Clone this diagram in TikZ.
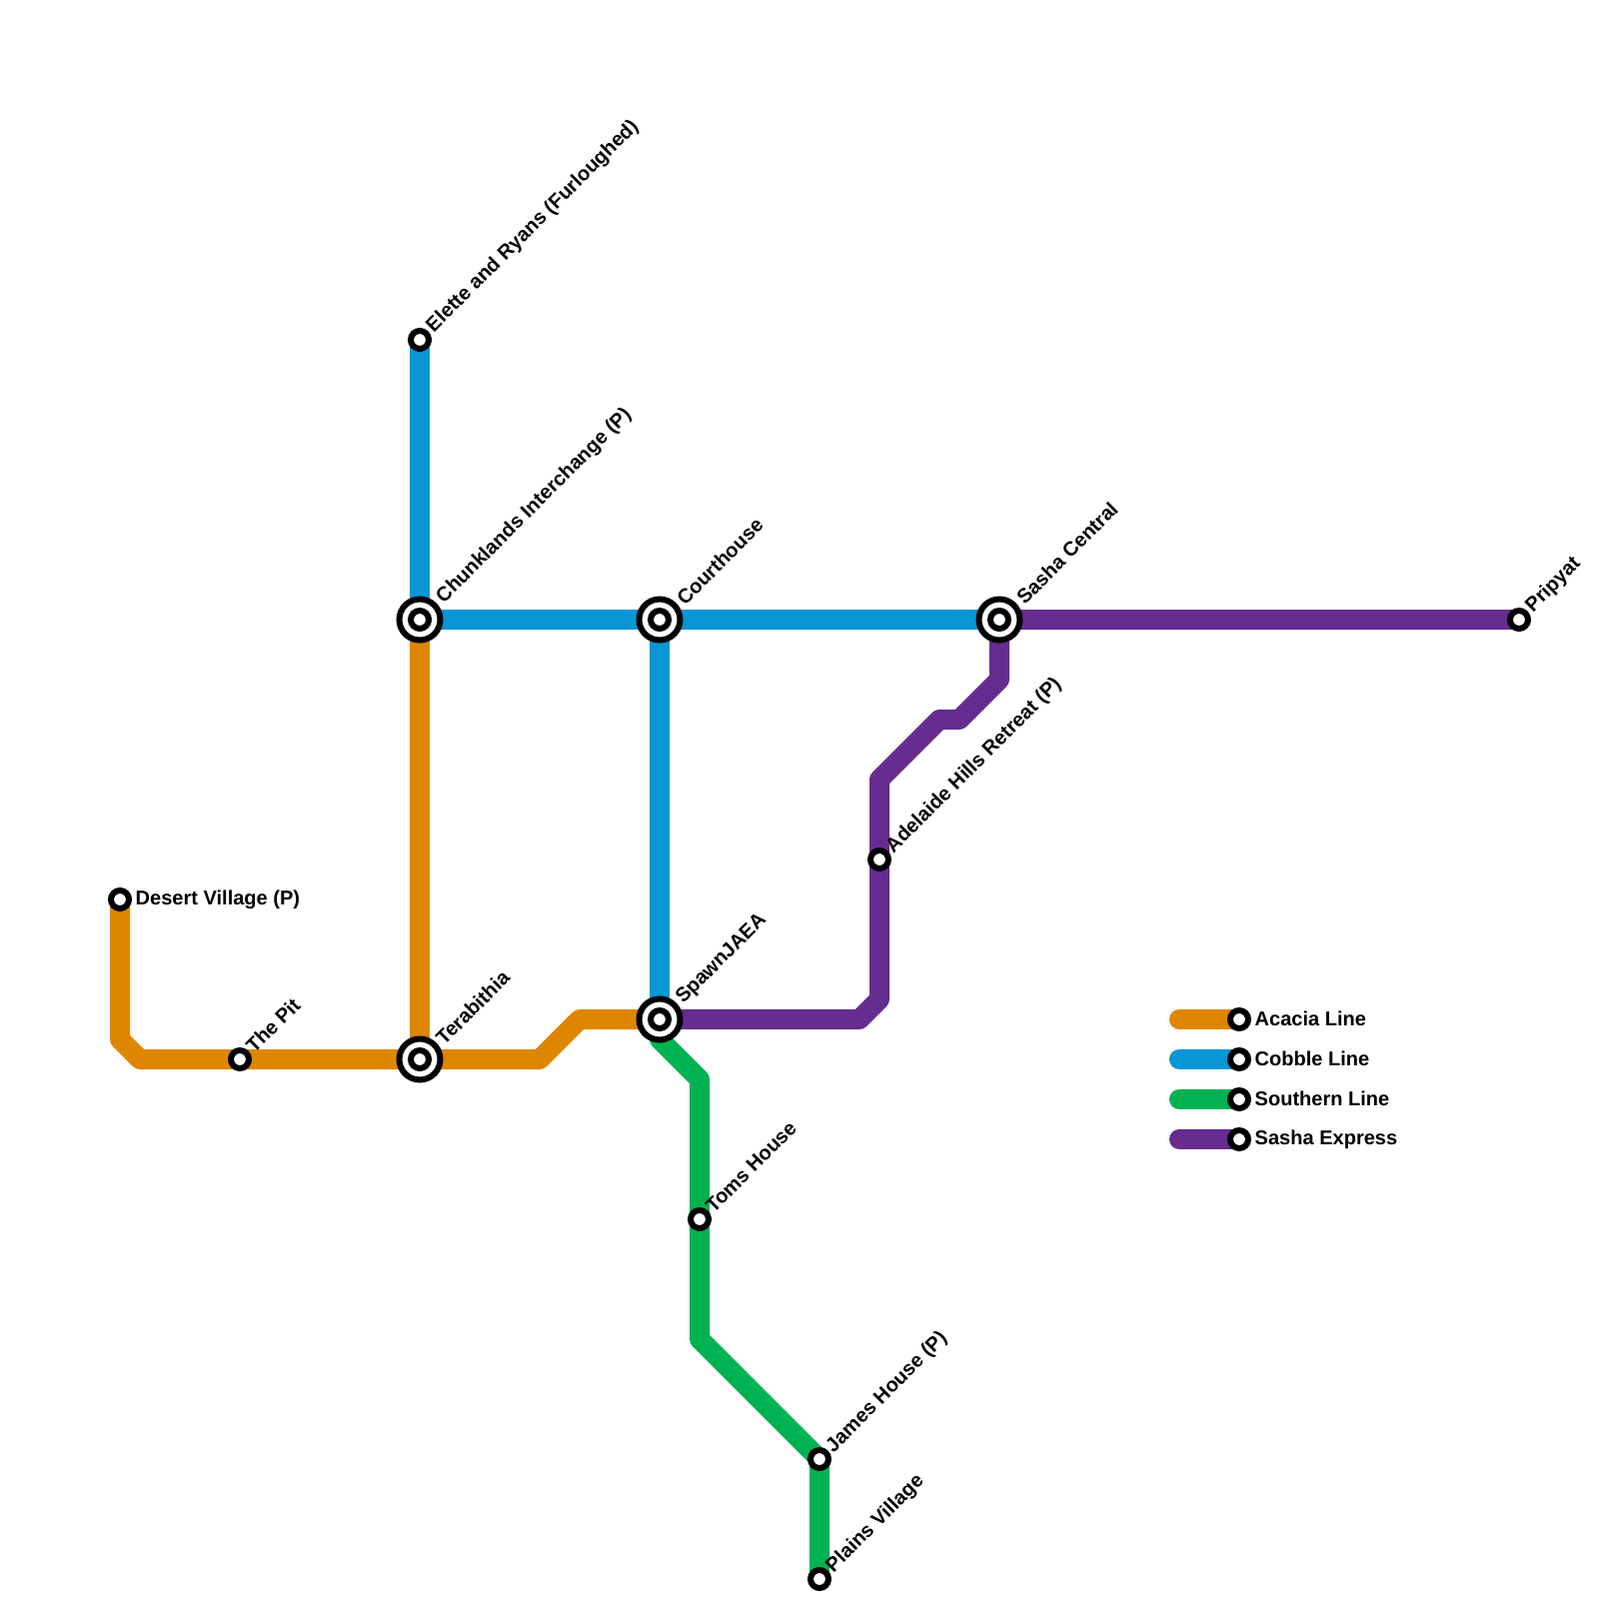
\documentclass[tikz,border=0pt]{standalone}
\usepackage{fontspec}
\setmainfont{Liberation Sans}
\usetikzlibrary{backgrounds}
\definecolor{acacia}{HTML}{DF8600}
\definecolor{cobble}{HTML}{0896D7}
\definecolor{southern}{HTML}{00B251}
\definecolor{sasha}{HTML}{662C90}
\tikzset{
    stop/.style={circle, draw=black, fill=white, line width=0.6mm, minimum size=1.8mm, inner sep=0pt},
    hub/.style={circle, draw=black, fill=white, line width=0.6mm, minimum size=4.1mm, inner sep=0pt},
    tag/.style={anchor=west, inner sep=0pt, font=\fontsize{5.7pt}{6pt}\selectfont\bfseries},
    slant/.style={tag, rotate=45},
    route/.style={line width=2mm, line join=round}
}

\begin{document}
\begin{tikzpicture}[x=0.1mm, y=-0.1mm]
    \useasboundingbox (0,0) rectangle (1600,1600);

    % Acacia stops
    \node[stop] (desert) at (120,900) {};
    \node[stop] (pit) at (240,1060) {};
    \node[hub] (terabithia) at (420,1060) {};
    \node[stop] (terabithiain) at (terabithia) {};

    % Interchanges on the Cobble line
    \node[stop] (elette) at (420,340) {};
    \node[hub] (chunklands) at (420,620) {};
    \node[stop] (chunklandsin) at (chunklands) {};
    \node[hub] (courthouse) at (660,620) {};
    \node[stop] (courthousein) at (courthouse) {};
    \node[hub] (central) at (1000,620) {};
    \node[stop] (centralin) at (central) {};
    \node[hub] (spawn) at (660,1020) {};
    \node[stop] (spawnin) at (spawn) {};

    % Sasha Express stops
    \node[stop] (pripyat) at (1520,620) {};
    \node[stop] (adelaide) at (880,860) {};

    % Southern stops
    \node[stop] (toms) at (700,1220) {};
    \node[stop] (james) at (820,1460) {};
    \node[stop] (plains) at (820,1580) {};

    % Key
    \node[stop] (keya) at (1240,1020) {};
    \node[stop] (keyc) at (1240,1060) {};
    \node[stop] (keys) at (1240,1100) {};
    \node[stop] (keyx) at (1240,1140) {};
    \coordinate (keyaend) at (1180,1020);
    \coordinate (keycend) at (1180,1060);
    \coordinate (keysend) at (1180,1100);
    \coordinate (keyxend) at (1180,1140);

    % Station names
    \node[tag] (desertname) at (135,900) {Desert Village (P)};
    \node[slant] (pitname) at (249,1050) {The Pit};
    \node[slant] (terabithianame) at (439,1042) {Terabithia};
    \node[slant] (elettename) at (430,330) {Elette and Ryans (Furloughed)};
    \node[slant] (chunklandsname) at (440,601) {Chunklands Interchange (P)};
    \node[slant] (courthousename) at (680,602) {Courthouse};
    \node[slant] (centralname) at (1020,601) {Sasha Central};
    \node[slant] (spawnname) at (680,1002) {SpawnJAEA};
    \node[slant] (pripyatname) at (1530,610) {Pripyat};
    \node[slant] (adelaidename) at (890,851) {Adelaide Hills Retreat (P)};
    \node[slant] (tomsname) at (709,1210) {Toms House};
    \node[slant] (jamesname) at (830,1451) {James House (P)};
    \node[slant] (plainsname) at (830,1571) {Plains Village};
    \node[tag] (keyaname) at (1255,1019) {Acacia Line};
    \node[tag] (keycname) at (1255,1059) {Cobble Line};
    \node[tag] (keysname) at (1255,1099) {Southern Line};
    \node[tag] (keyxname) at (1255,1140) {Sasha Express};

    % Bends
    \coordinate (a1) at (120,1040);
    \coordinate (a2) at (140,1060);
    \coordinate (a3) at (540,1060);
    \coordinate (a4) at (580,1020);
    \coordinate (s0) at (660,1040);
    \coordinate (s1) at (700,1080);
    \coordinate (s2) at (700,1340);
    \coordinate (x1) at (1000,680);
    \coordinate (x2) at (960,720);
    \coordinate (x3) at (940,720);
    \coordinate (x4) at (880,780);
    \coordinate (x5) at (880,1000);
    \coordinate (x6) at (860,1020);

    \begin{scope}[on background layer]
        % Acacia
        \draw[route, acacia] (desert.center) -- (a1) -- (a2) -- (pit.center) -- (terabithia.center) -- (a3) -- (a4) -- (spawn.center);
        \draw[route, acacia] (chunklands.center) -- (terabithia.center);
        % Cobble
        \draw[route, cobble] (elette.center) -- (chunklands.center) -- (courthouse.center) -- (central.center);
        \draw[route, cobble] (courthouse.center) -- (spawn.center);
        % Southern
        \draw[route, southern] (spawn.center) -- (s0) -- (s1) -- (toms.center) -- (s2) -- (james.center) -- (plains.center);
        % Sasha Express
        \draw[route, sasha] (pripyat.center) -- (central.center) -- (x1) -- (x2) -- (x3) -- (x4) -- (adelaide.center) -- (x5) -- (x6) -- (spawn.center);
        % Key
        \draw[route, line cap=round, acacia] (keyaend) -- (keya.center);
        \draw[route, line cap=round, cobble] (keycend) -- (keyc.center);
        \draw[route, line cap=round, southern] (keysend) -- (keys.center);
        \draw[route, line cap=round, sasha] (keyxend) -- (keyx.center);
    \end{scope}
\end{tikzpicture}
\end{document}
